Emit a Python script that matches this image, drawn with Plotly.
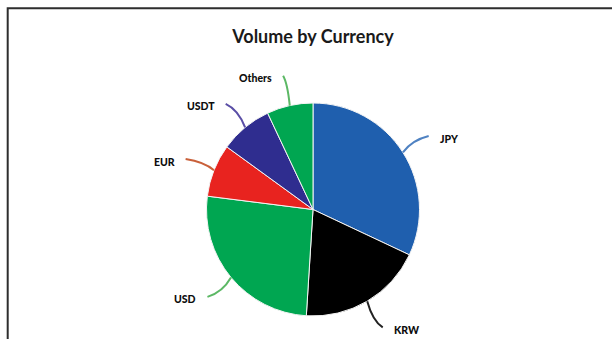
import math
import plotly.graph_objects as go

# Trading volume share by currency (%)
currencies = ["JPY", "KRW", "USD", "EUR", "USDT", "Others"]
volume_share = [32, 19, 26, 8, 8, 7]

slice_colors = ["#1f5fae", "#000000", "#00a651", "#e8231f", "#2f2d8f", "#00a651"]
leader_colors = ["#4f82c2", "#222222", "#5cb865", "#c9603a", "#5a4ea6", "#5cb865"]

W, H = 612, 339
CX, CY, R = 313, 209.5, 106.5   # pie centre and radius in pixels
R_END = 137                     # where leader lines stop
LABEL_GAP = 9

def px_to_paper(x, y):
    return x / W, 1 - y / H

fig = go.Figure()
x0, y0 = px_to_paper(CX - R, CY + R)
x1, y1 = px_to_paper(CX + R, CY - R)
fig.add_trace(go.Pie(
    labels=currencies,
    values=volume_share,
    sort=False,
    direction="clockwise",
    rotation=0,
    textinfo="none",
    hoverinfo="label+percent",
    marker=dict(colors=slice_colors, line=dict(color="#f4f4f4", width=1)),
    domain=dict(x=[x0, x1], y=[y0, y1]),
    showlegend=False,
))

shapes = []
annotations = []
total = sum(volume_share)
cum = 0.0
for name, val, col in zip(currencies, volume_share, leader_colors):
    mid = (cum + val / 2) / total * 2 * math.pi
    cum += val
    sx, sy = CX + R * math.sin(mid), CY - R * math.cos(mid)
    ex, ey = CX + R_END * math.sin(mid), CY - R_END * math.cos(mid)
    # gentle bend that flattens toward the label
    qx, qy = sx + 0.35 * (ex - sx), sy + 0.75 * (ey - sy)
    p0, p1, p2 = px_to_paper(sx, sy), px_to_paper(qx, qy), px_to_paper(ex, ey)
    shapes.append(dict(
        type="path", xref="paper", yref="paper",
        path=f"M {p0[0]:.5f},{p0[1]:.5f} Q {p1[0]:.5f},{p1[1]:.5f} {p2[0]:.5f},{p2[1]:.5f}",
        line=dict(color=col, width=2),
    ))
    right_side = math.sin(mid) > 0
    lx = ex + LABEL_GAP if right_side else ex - LABEL_GAP
    ax, ay = px_to_paper(lx, ey + 2.5)
    annotations.append(dict(
        x=ax, y=ay, xref="paper", yref="paper", showarrow=False,
        text=name, xanchor="left" if right_side else "right", yanchor="middle",
        font=dict(family="Lato", size=10.5, color="#0d0d0d", weight=900),
    ))

# frame around the chart area
shapes.append(dict(
    type="rect", xref="paper", yref="paper",
    x0=7.7 / W, x1=1.05, y0=-0.05, y1=1 - 8.3 / H,
    line=dict(color="#2e2e2e", width=2), fillcolor="rgba(0,0,0,0)",
))

fig.update_layout(
    width=W, height=H,
    margin=dict(l=0, r=0, t=0, b=0),
    paper_bgcolor="white",
    plot_bgcolor="white",
    title=dict(
        text="Volume by Currency",
        x=CX / W, xanchor="center", xref="paper",
        y=1 - 36.5 / H, yanchor="middle", yref="paper",
        font=dict(family="Lato", size=18, color="#1a1a1a", weight="bold"),
    ),
    shapes=shapes,
    annotations=annotations,
)

fig.write_html("out.html")
